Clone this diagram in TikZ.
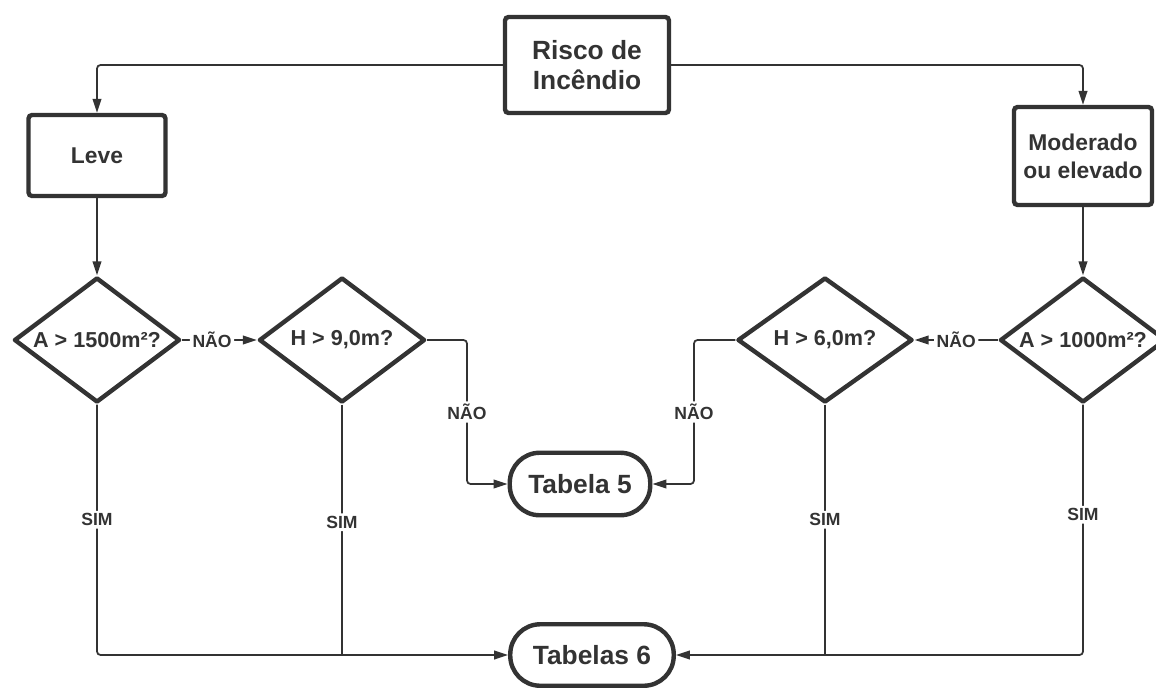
\documentclass[tikz,border=0pt]{standalone}
\usepackage{fontspec}
\setmainfont{Liberation Sans}
\usetikzlibrary{shapes.geometric,arrows.meta}
\definecolor{escuro}{HTML}{333333}

\begin{document}
\begin{tikzpicture}[x=0.02cm, y=-0.02cm,
  caixa/.style={draw=escuro, line width=2.5pt, rounded corners=2pt, text=escuro, align=center, font=\fontsize{13}{16}\selectfont\bfseries},
  decisao/.style={diamond, aspect=1.4, draw=escuro, line width=2.5pt, line join=round, text=escuro, inner sep=0pt, minimum width=3.32cm, minimum height=2.5cm, font=\fontsize{12.3}{14}\selectfont\bfseries},
  fim/.style={draw=escuro, line width=2.5pt, rounded corners=0.6cm, text=escuro, font=\fontsize{15}{18}\selectfont\bfseries},
  linha/.style={draw=escuro, line width=1pt, rounded corners=2pt},
  seta/.style={linha, -{Triangle[length=8pt,width=5pt]}},
  rotulo/.style={fill=white, text=escuro, inner sep=1.5pt, font=\fontsize{10}{12}\selectfont\bfseries}]
\useasboundingbox (0,0) rectangle (1156,687);
\node[caixa, minimum width=3.28cm, minimum height=1.92cm, font=\fontsize{15}{17}\selectfont\bfseries](risco) at (587,65){Risco de\\Incêndio};
\node[caixa, minimum width=2.74cm, minimum height=1.62cm](leve) at (97,155.5){Leve};
\node[caixa, minimum width=2.76cm, minimum height=1.96cm](moderado) at (1083,156){Moderado\\ou elevado};
\node[decisao](a1500) at (97,340){A > 1500m²?};
\node[decisao](h9) at (342,340){H > 9,0m?};
\node[decisao, minimum width=3.5cm](h6) at (825,340){H > 6,0m?};
\node[decisao](a1000) at (1083,340){A > 1000m²?};
\node[fim, minimum width=2.81cm, minimum height=1.25cm](tab5) at (580,484){Tabela 5};
\node[fim, minimum width=3.27cm, minimum height=1.23cm](tab6) at (592,655){Tabelas 6};
\coordinate (c9) at (467,340);
\coordinate (c6) at (694,340);
% ramos do risco
\draw[seta] (risco.west) -| (leve.north);
\draw[seta] (risco.east) -| (moderado.north);
\foreach \de/\para in {leve/a1500,moderado/a1000}
  \draw[seta] (\de) -- (\para);
% respostas NAO
\draw[seta] (a1500) -- node[rotulo,pos=0.4]{NÃO} (h9);
\draw[seta] (a1000) -- node[rotulo]{NÃO} (h6);
\draw[seta] (h9.east) -- (c9) |- node[rotulo,pos=0.25]{NÃO} (tab5.west);
\draw[seta] (h6.west) -- (c6) |- node[rotulo,pos=0.25]{NÃO} (tab5.east);
% respostas SIM
\draw[seta] (a1500.south) |- node[rotulo,pos=0.23]{SIM} (tab6.west);
\draw[linha] (h9.south) -- node[rotulo,pos=0.47]{SIM} (h9.south |- tab6.west);
\draw[linha] (h6.south) -- node[rotulo,pos=0.46]{SIM} (h6.south |- tab6.east);
\draw[seta] (a1000.south) |- node[rotulo,pos=0.22]{SIM} (tab6.east);
\end{tikzpicture}
\end{document}
